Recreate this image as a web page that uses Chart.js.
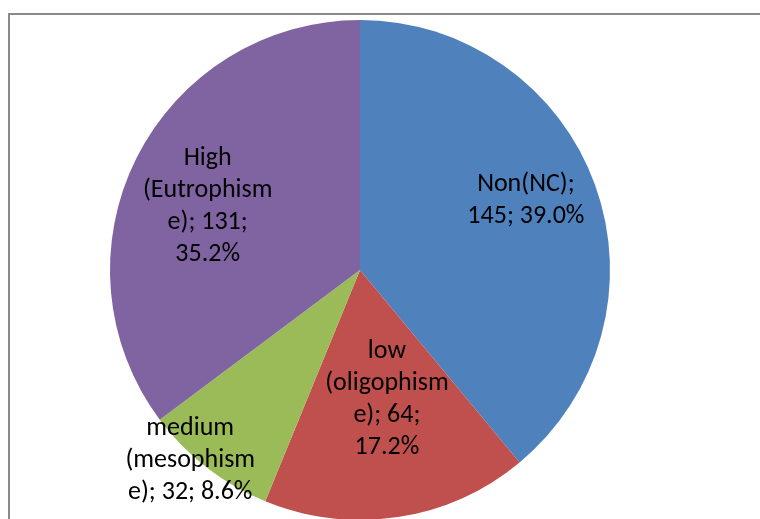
<!DOCTYPE html>
<html>
<head>
<meta charset="utf-8">
<script src="https://cdn.jsdelivr.net/npm/chart.js@4/dist/chart.umd.min.js"></script>
<style>
  html, body { margin: 0; padding: 0; background: #ffffff; }
  #wrap { position: relative; width: 760px; height: 519px; overflow: hidden; background: #ffffff; }
  #frame { position: absolute; left: 8px; top: 13px; width: 800px; height: 600px;
           border-left: 2px solid #8a8a8a; border-top: 2px solid #8a8a8a; box-sizing: border-box; }
  #cv { position: absolute; left: 0; top: 0; }
</style>
</head>
<body>
<div id="wrap">
  <div id="frame"></div>
  <canvas id="cv" width="760" height="540"></canvas>
</div>
<script>
// Trophic categories and counts
const categories = ['Non(NC)', 'low (oligophisme)', 'medium (mesophisme)', 'High (Eutrophisme)'];
const counts = [145, 64, 32, 131];
// Wrapped data-label lines (name; value; percent)
const labelLines = [
  ['Non(NC);', '145; 39.0%'],
  ['low', '(oligophism', 'e); 64;', '17.2%'],
  ['medium', '(mesophism', 'e); 32; 8.6%'],
  ['High', '(Eutrophism', 'e); 131;', '35.2%']
];
const sliceColors = ['#4f81bd', '#c0504d', '#9bbb59', '#8064a2'];

// Label placement: fraction of radius and angular shift (degrees) from slice middle
const labelPlace = [
  { r: 0.72, shift: -3 },
  { r: 0.53, shift: -3 },
  { r: 1.02, shift: 4 },
  { r: 0.66, shift: -4 }
];

const dataLabels = {
  id: 'dataLabels',
  afterDatasetsDraw(chart) {
    const ctx = chart.ctx;
    const meta = chart.getDatasetMeta(0);
    ctx.save();
    ctx.font = '26px Carlito, Lato, "Open Sans", sans-serif';
    ctx.fillStyle = '#000000';
    ctx.textAlign = 'center';
    ctx.textBaseline = 'middle';
    const lineH = 32;
    meta.data.forEach((arc, i) => {
      const p = arc.getProps(['x', 'y', 'startAngle', 'endAngle', 'outerRadius'], true);
      const mid = (p.startAngle + p.endAngle) / 2 + labelPlace[i].shift * Math.PI / 180;
      const rr = p.outerRadius * labelPlace[i].r;
      const cx = p.x + Math.cos(mid) * rr;
      const cy = p.y + Math.sin(mid) * rr;
      const lines = labelLines[i];
      const y0 = cy - (lines.length - 1) * lineH / 2;
      lines.forEach((t, k) => ctx.fillText(t, cx, y0 + k * lineH));
    });
    ctx.restore();
  }
};

new Chart(document.getElementById('cv'), {
  type: 'pie',
  data: {
    labels: categories,
    datasets: [{
      data: counts,
      backgroundColor: sliceColors,
      borderWidth: 0
    }]
  },
  options: {
    responsive: false,
    animation: false,
    layout: { padding: { left: 110, right: 150, top: 20, bottom: 20 } },
    plugins: {
      legend: { display: false },
      tooltip: { enabled: false }
    }
  },
  plugins: [dataLabels]
});
</script>
</body>
</html>
